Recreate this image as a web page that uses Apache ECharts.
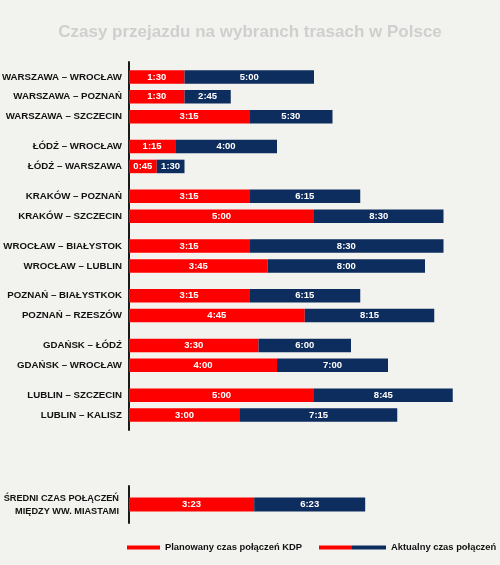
<!DOCTYPE html>
<html>
<head>
<meta charset="utf-8">
<script src="https://cdn.jsdelivr.net/npm/echarts@6/dist/echarts.min.js"></script>
<style>
  html, body { margin: 0; padding: 0; background: #f2f2ee; }
  #chart { width: 500px; height: 565px; }
</style>
</head>
<body>
<div id="chart"></div>
<script>
// routes, grouped (group sizes give the visual breaks)
const routes = [
  'WARSZAWA – WROCŁAW', 'WARSZAWA – POZNAŃ', 'WARSZAWA – SZCZECIN',
  'ŁÓDŹ – WROCŁAW', 'ŁÓDŹ – WARSZAWA',
  'KRAKÓW – POZNAŃ', 'KRAKÓW – SZCZECIN',
  'WROCŁAW – BIAŁYSTOK', 'WROCŁAW – LUBLIN',
  'POZNAŃ – BIAŁYSTKOK', 'POZNAŃ – RZESZÓW',
  'GDAŃSK – ŁÓDŹ', 'GDAŃSK – WROCŁAW',
  'LUBLIN – SZCZECIN', 'LUBLIN – KALISZ'
]
const groupSizes = [3, 2, 2, 2, 2, 2, 2]
const planned = ['1:30', '1:30', '3:15', '1:15', '0:45', '3:15', '5:00', '3:15', '3:45', '3:15', '4:45', '3:30', '4:00', '5:00', '3:00']
const actual = ['5:00', '2:45', '5:30', '4:00', '1:30', '6:15', '8:30', '8:30', '8:00', '6:15', '8:15', '6:00', '7:00', '8:45', '7:15']

const avgLabel = 'ŚREDNI CZAS POŁĄCZEŃ\nMIĘDZY WW. MIASTAMI'
const avgPlanned = ['3:23']
const avgActual = ['6:23']

const RED = '#ff0000'
const NAVY = '#0d2d5e'
const FONT = 'Liberation Sans'
const PLAN_NAME = 'Planowany czas połączeń KDP'
const ACT_NAME = 'Aktualny czas połączeń'

const toMin = s => {
  let p = s.split(':')
  return +p[0] * 60 + +p[1]
}

// build category slots: one blank between rows, two blanks between groups
let cats = ['']
let planData = [null]
let restData = [null]
let actLabels = ['']
let idx = 0
groupSizes.forEach((n, g) => {
  for (let i = 0; i < n; i++) {
    if (i > 0) { cats.push(''); planData.push(null); restData.push(null); actLabels.push('') }
    cats.push(routes[idx])
    planData.push(toMin(planned[idx]))
    restData.push(toMin(actual[idx]) - toMin(planned[idx]))
    actLabels.push(actual[idx])
    idx++
  }
  if (g < groupSizes.length - 1) {
    for (let k = 0; k < 2; k++) { cats.push(''); planData.push(null); restData.push(null); actLabels.push('') }
  }
})
cats.push(''); planData.push(null); restData.push(null); actLabels.push('')

const fmtTime = m => Math.floor(m / 60) + ':' + String(m % 60).padStart(2, '0')

let chart = echarts.init(document.getElementById('chart'))

const barLabel = {
  show: true,
  position: 'inside',
  color: '#fff',
  fontSize: 9.5,
  fontWeight: 'bold',
  fontFamily: FONT,
}

const yAxisCommon = {
  type: 'category',
  inverse: true,
  axisTick: { show: false },
  axisLine: { lineStyle: { color: '#1a1a1a', width: 2 } },
  axisLabel: {
    interval: 0,
    color: '#111',
    fontSize: 9.7,
    fontWeight: 'bold',
    fontFamily: FONT,
  },
}

const legendText = { color: '#111', fontSize: 9.4, fontWeight: 'bold', fontFamily: FONT }

let options = {
  backgroundColor: '#f2f2ee',
  animation: false,
  title: {
    text: 'Czasy przejazdu na wybranch trasach w Polsce',
    left: 'center',
    top: 19,
    textStyle: {
      color: '#cfcfcf',
      fontSize: 17,
      fontWeight: 'bold',
      fontFamily: FONT,
    },
  },
  legend: [
    {
      data: [PLAN_NAME],
      left: 127,
      top: 543,
      padding: 0,
      icon: 'rect',
      itemWidth: 33,
      itemHeight: 4,
      selectedMode: false,
      textStyle: legendText,
    },
    {
      data: [{
        name: ACT_NAME,
        itemStyle: {
          color: {
            type: 'linear', x: 0, y: 0, x2: 1, y2: 0,
            colorStops: [
              { offset: 0, color: RED }, { offset: 0.5, color: RED },
              { offset: 0.5, color: NAVY }, { offset: 1, color: NAVY },
            ],
          },
        },
      }],
      left: 319,
      top: 543,
      padding: 0,
      icon: 'rect',
      itemWidth: 67,
      itemHeight: 4,
      selectedMode: false,
      textStyle: legendText,
    },
  ],
  grid: [
    { left: 129, width: 370, top: 62, height: 368, outerBoundsMode: 'none', containLabel: false },
    { left: 129, width: 370, top: 486, height: 37, outerBoundsMode: 'none', containLabel: false },
  ],
  xAxis: [
    { type: 'value', gridIndex: 0, min: 0, max: 600, show: false },
    { type: 'value', gridIndex: 1, min: 0, max: 600, show: false },
  ],
  yAxis: [
    Object.assign({}, yAxisCommon, {
      gridIndex: 0,
      data: cats,
      axisLabel: Object.assign({}, yAxisCommon.axisLabel, { margin: 7 }),
    }),
    Object.assign({}, yAxisCommon, {
      gridIndex: 1,
      data: [avgLabel],
      axisLabel: Object.assign({}, yAxisCommon.axisLabel, { margin: 10, lineHeight: 13, fontSize: 9.2 }),
    }),
  ],
  series: [
    {
      name: PLAN_NAME,
      type: 'bar',
      stack: 'a',
      xAxisIndex: 0,
      yAxisIndex: 0,
      barWidth: 13.5,
      itemStyle: { color: RED },
      label: Object.assign({}, barLabel, { formatter: p => fmtTime(p.value) }),
      data: planData,
    },
    {
      name: ACT_NAME,
      type: 'bar',
      stack: 'a',
      xAxisIndex: 0,
      yAxisIndex: 0,
      barWidth: 13.5,
      itemStyle: { color: NAVY },
      label: Object.assign({}, barLabel, { formatter: p => actLabels[p.dataIndex] }),
      data: restData,
    },
    {
      name: PLAN_NAME,
      type: 'bar',
      stack: 'b',
      xAxisIndex: 1,
      yAxisIndex: 1,
      barWidth: 14,
      itemStyle: { color: RED },
      label: Object.assign({}, barLabel, { formatter: p => avgPlanned[p.dataIndex] }),
      data: avgPlanned.map(toMin),
    },
    {
      name: ACT_NAME,
      type: 'bar',
      stack: 'b',
      xAxisIndex: 1,
      yAxisIndex: 1,
      barWidth: 14,
      itemStyle: { color: NAVY },
      label: Object.assign({}, barLabel, { formatter: p => avgActual[p.dataIndex] }),
      data: avgActual.map((a, i) => toMin(a) - toMin(avgPlanned[i])),
    },
  ],
}
chart.setOption(options)
</script>
</body>
</html>
